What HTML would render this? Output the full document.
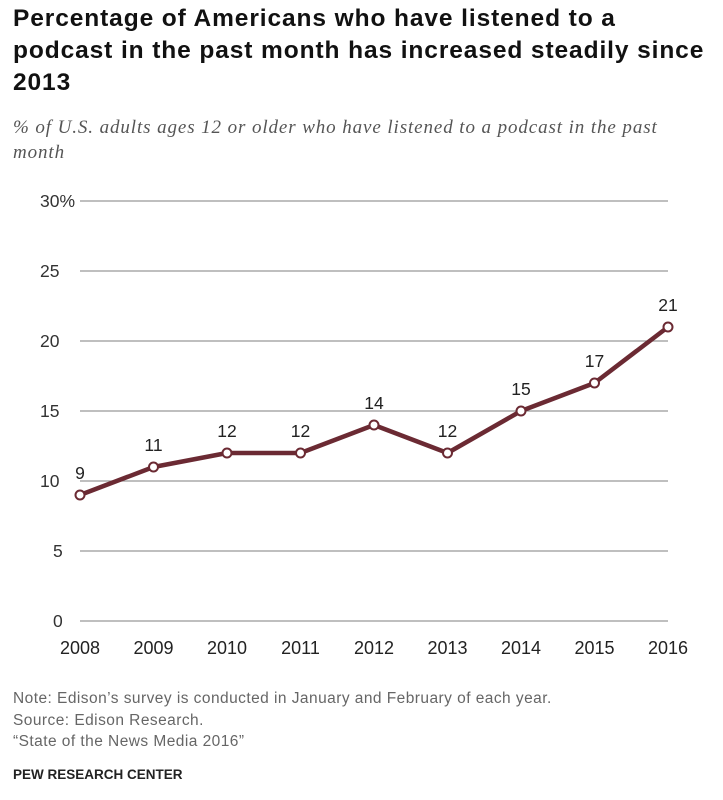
<!DOCTYPE html>
<html><head><meta charset="utf-8"><style>
body{margin:0;background:#fff;width:723px;height:800px;overflow:hidden;font-family:"Liberation Sans",sans-serif}
.t{position:absolute;left:13px;top:3px;font-size:24.5px;font-weight:bold;line-height:32px;color:#111;width:715px;white-space:nowrap;letter-spacing:0.9px}
.s{position:absolute;left:13px;top:115px;font-family:"Liberation Serif",serif;font-style:italic;font-size:19px;line-height:25px;color:#555;width:710px;white-space:nowrap;letter-spacing:0.9px}
.n{position:absolute;left:13px;font-size:15.5px;color:#666;white-space:nowrap;letter-spacing:0.45px}
</style></head><body>
<div class="t">Percentage of Americans who have listened to a<br>podcast in the past month has increased steadily since<br>2013</div>
<div class="s">% of U.S. adults ages 12 or older who have listened to a podcast in the past<br>month</div>
<svg id="c" width="723" height="800" style="position:absolute;left:0;top:0"></svg>
<div class="n" style="top:690px">Note: Edison’s survey is conducted in January and February of each year.</div>
<div class="n" style="top:712px">Source: Edison Research.</div>
<div class="n" style="top:733px">“State of the News Media 2016”</div>
<div class="n" style="top:767px;color:#222;font-weight:bold;font-size:13.5px;letter-spacing:0">PEW RESEARCH CENTER</div>
<script>
const years=["2008","2009","2010","2011","2012","2013","2014","2015","2016"];
const values=[9,11,12,12,14,12,15,17,21];
const ticks=[0,5,10,15,20,25,30];
const NS="http://www.w3.org/2000/svg",svg=document.getElementById('c');
const x=i=>80+i*73.5, y=v=>621-v*14;
function mk(t,a,p){const e=document.createElementNS(NS,t);for(const k in a)e.setAttribute(k,a[k]);(p||svg).appendChild(e);return e;}
ticks.forEach(t=>{
const l=mk('line',{x1:80,x2:668,y1:y(t),y2:y(t),stroke:'#999','stroke-width':1.2});


const tx=mk('text',{x:t<10?53:40,y:y(t)+6,'font-size':17.5,fill:'#333','font-family':'Liberation Sans'});
tx.textContent=t==30?'30%':t;


});
years.forEach((yr,i)=>{
const tx=mk('text',{x:x(i),y:654,'text-anchor':'middle','font-size':18,fill:'#222','font-family':'Liberation Sans'});
tx.textContent=yr;


});
const pl=mk('polyline',{points:values.map((v,i)=>x(i)+','+y(v)).join(' '),fill:'none',stroke:'#6b2a33','stroke-width':4.5,'stroke-linejoin':'round'});


values.forEach((v,i)=>{
const c=mk('circle',{cx:x(i),cy:y(v),r:4.5,fill:'#fff',stroke:'#6b2a33','stroke-width':2});


const tx=mk('text',{x:x(i),y:y(v)-16,'text-anchor':'middle','font-size':17.5,fill:'#222','font-family':'Liberation Sans'});
tx.textContent=v;


});
</script>
</body></html>
